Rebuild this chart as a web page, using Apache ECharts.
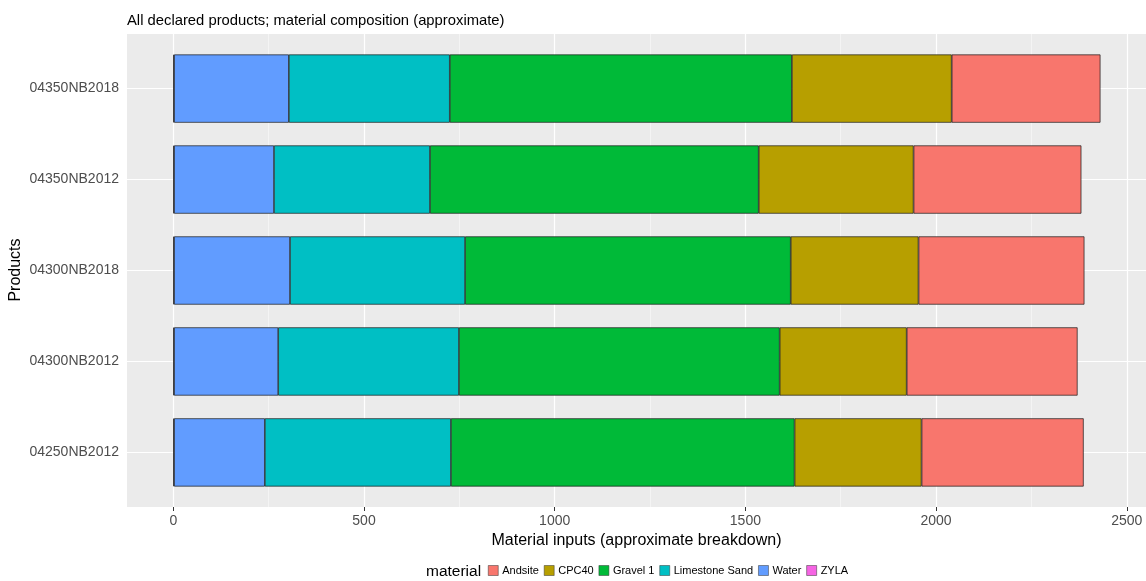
<!DOCTYPE html>
<html><head><meta charset="utf-8">
<script src="https://cdn.jsdelivr.net/npm/echarts@6/dist/echarts.min.js"></script>
<style>html,body{margin:0;padding:0;background:#fff}#c{width:1146px;height:581px}</style>
</head><body><div id="c"></div>
<script>
const products = ['04250NB2012','04300NB2012','04300NB2018','04350NB2012','04350NB2018'];
const materials = ['Andsite','CPC40','Gravel 1','Limestone Sand','Water','ZYLA'];
const zyla      = [2, 2, 2, 2, 2];
const water     = [238, 273, 304, 262, 301];
const limestone = [488, 474, 459, 409, 422];
const gravel    = [901, 841, 854, 862, 897];
const cpc40     = [333, 333, 335, 406, 419];
const andsite   = [425, 448, 435, 440, 390];
const xTicks = [0, 500, 1000, 1500, 2000, 2500];
const xMinor = [250, 750, 1250, 1750, 2250];
const yPositions = [1, 2, 3, 4, 5];
const colors = {'Andsite':'#F8766D','CPC40':'#B79F00','Gravel 1':'#00BA38','Limestone Sand':'#00BFC4','Water':'#619CFF','ZYLA':'#F564E3'};

const FONT = "'Liberation Sans', Arial, sans-serif";
const xMin = -121.45, xMax = 2550.45;
const chart = echarts.init(document.getElementById('c'), null, {renderer:'canvas'});

const stackSeries = [['ZYLA', zyla], ['Water', water], ['Limestone Sand', limestone], ['Gravel 1', gravel], ['CPC40', cpc40], ['Andsite', andsite]].map(([name, d]) => ({
  name, type: 'bar', stack: 'total', xAxisIndex: 1, yAxisIndex: 1, data: d, barWidth: '75%', z: 3,
  itemStyle: {color: colors[name], borderColor: '#1a1a1a', borderWidth: 0.7}
}));

const gridLines = [];
xMinor.forEach(v => gridLines.push({xAxis: v, lineStyle: {width: 0.6, color: '#FAFAFA'}}));
xTicks.forEach(v => gridLines.push({xAxis: v, lineStyle: {width: 1.2, color: '#FFFFFF'}}));
yPositions.forEach(v => gridLines.push({yAxis: v, lineStyle: {width: 1.2, color: '#FFFFFF'}}));

chart.setOption({
  animation: false,
  textStyle: {fontFamily: FONT},
  title: {text: 'All declared products; material composition (approximate)', left: 122, top: 8,
    textStyle: {fontSize: 14.8, fontWeight: 'normal', color: '#000', fontFamily: FONT}},
  grid: [
    {left: 127, right: 0, top: 34, bottom: 74, show: true, backgroundColor: '#EBEBEB', borderWidth: 0, z: 0},
    {left: 127, right: 0, top: 43.1, bottom: 83.1}
  ],
  xAxis: [
    {type: 'value', gridIndex: 0, min: xMin, max: xMax,
     name: 'Material inputs (approximate breakdown)', nameLocation: 'middle', nameGap: 25,
     nameTextStyle: {fontSize: 16, color: '#000', fontFamily: FONT},
     axisLine: {show: false}, splitLine: {show: false},
     axisTick: {show: true, customValues: xTicks, length: 4, lineStyle: {color: '#333', width: 1}},
     axisLabel: {customValues: xTicks, color: '#4D4D4D', fontSize: 14, margin: 7, fontFamily: FONT,
       formatter: v => String(v)}},
    {type: 'value', gridIndex: 1, min: xMin, max: xMax, show: false}
  ],
  yAxis: [
    {type: 'value', gridIndex: 0, min: 0.4, max: 5.6, show: false},
    {type: 'category', gridIndex: 1, data: products,
     axisLine: {show: false}, splitLine: {show: false},
     axisTick: {show: true, alignWithLabel: true, length: 4, lineStyle: {color: '#333'}},
     axisLabel: {color: '#4D4D4D', fontSize: 14, margin: 8, fontFamily: FONT}}
  ],
  legend: {
    data: materials, left: 483, top: 560, itemWidth: 10, itemHeight: 10, itemGap: 5, icon: 'rect',
    textStyle: {fontSize: 11, color: '#000', fontFamily: FONT, padding: [0, 0, 0, -1]},
    itemStyle: {borderColor: '#333', borderWidth: 0.5},
    selectedMode: false
  },
  graphic: [
    {type: 'text', left: 426, top: 564, style: {text: 'material', font: "15.5px " + FONT, fill: '#000'}},
    {type: 'text', x: 8, y: 270, rotation: Math.PI / 2, style: {text: 'Products', font: "16px " + FONT, fill: '#000', align: 'center', verticalAlign: 'top'}}
  ],
  series: [
    {type: 'line', xAxisIndex: 0, yAxisIndex: 0, data: [], z: 1, silent: true,
     markLine: {silent: true, z: 1, symbol: 'none', label: {show: false}, animation: false,
       lineStyle: {type: 'solid'}, data: gridLines}}
  ].concat(stackSeries)
});
</script></body></html>
